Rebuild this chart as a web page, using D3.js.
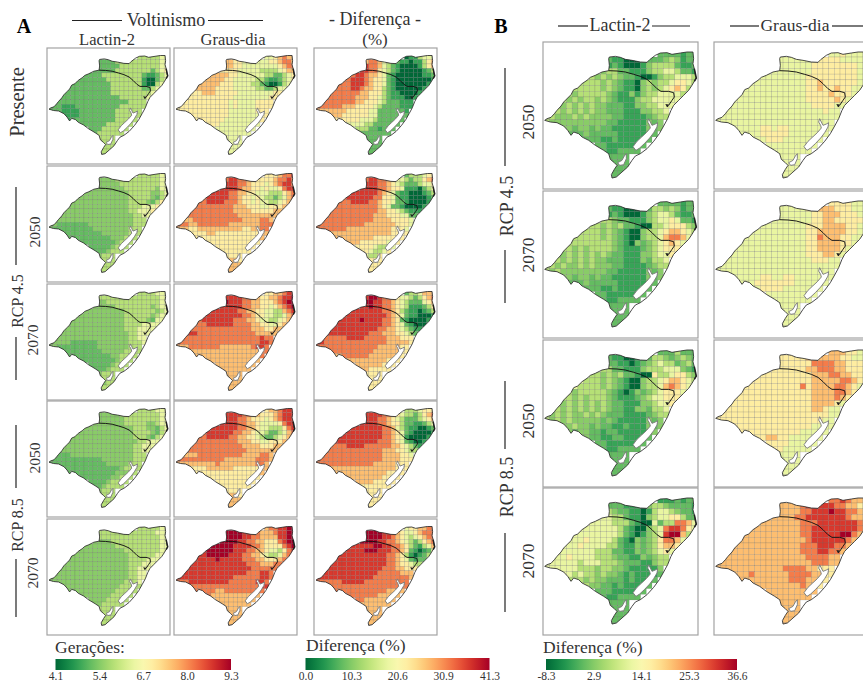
<!DOCTYPE html>
<html>
<head>
<meta charset="utf-8">
<script src="https://cdn.jsdelivr.net/npm/d3@7"></script>
<style>
body { margin: 0; background: #fff; }
svg { display: block; }
text { font-family: "Liberation Serif", serif; fill: #333; }
</style>
</head>
<body>
<svg width="863" height="683"></svg>
<script>
const svg = d3.select('svg');

// map units, 17.1 units = one grid cell (0.3 deg)
const OUTLINE = [[13,245],[20,240],[32,236],[42,225],[50,215],[62,202],[70,190],[82,178],[92,168],[100,153],[112,148],[125,135],[140,125],[150,116],[165,110],[185,100],[205,96],[207,80],[205,60],[207,55],[225,53],[240,56],[255,62],[275,65],[300,70],[320,71],[328,63],[345,50],[360,43],[380,42],[395,47],[420,43],[440,40],[458,40],[460,60],[458,75],[462,90],[465,110],[468,118],[462,128],[455,140],[445,155],[430,170],[415,185],[400,200],[392,215],[382,240],[370,262],[357,285],[340,308],[320,330],[300,345],[285,352],[275,365],[262,385],[245,400],[228,415],[215,418],[213,408],[222,392],[230,380],[222,372],[210,362],[205,345],[190,335],[165,320],[145,305],[125,295],[115,285],[100,280],[92,290],[82,275],[70,262],[50,252],[30,250]];
const DIVIDE = [[205,96],[230,97],[255,100],[280,107],[300,113],[320,122],[335,135],[350,150],[362,158],[385,158],[400,162],[402,175],[395,185],[385,200]];
const PATOS = [[325,240],[330,250],[335,260],[345,256],[352,252],[350,265],[340,282],[328,298],[313,314],[298,328],[287,335],[278,324],[290,308],[303,296],[318,282],[330,268],[328,260],[322,250]];
const MIRIM = [[258,345],[258,360],[250,378],[238,380],[232,372],[245,365],[252,352]];
const SHORE = [[462,90],[466,108],[468,118],[462,128]];
const DELTA = [[385,200],[379,199],[382,205]];

// first column of each grid row
const ROW_START = [20,11,11,10,8,6,5,4,3,2,1,0,0,3,4,7,9,10,11,11,12,12,12];

// cell values as levels of the colour bar, one string per grid row
const A_PRES_LACTIN = "3333344 2222333333333344 2222233333333344 22222333333332345 2222333333333211234 222222233333333100234 222222222333333310034 222222222233333332234 222222222223333333334 222222222222223333334 222222222222222223333 2221112222222222333333 222111122222222333333 111122222222333333 1222222222233333 222222333333 222333333 2333333 3333 3333 333 33 3".split(" ");
const A_PRES_GRAUS = "4456766 6655444444556776 6655444444445677 55554444433334566 6666554444443322345 666665544444332112345 666665554444332100134 666665555444443322344 555666555554444444455 555555555554444444455 555555555554544445555 5555555555554544445555 555555555555444444555 555555555444444455 5555555444444445 555444444444 444444444 4444444 4444 4444 444 44 4".split(" ");
const A_PRES_DIF = "0113444 6776433211011356 8776432100001356 88775432100000123 7887665421000000112 778887655421000000001 777888765542100000001 777788766553210000001 777777766555321100001 777777766655432111001 777777776655543222111 7777776665555432222111 666666655555442222221 666555555442222222 5555554443222222 444433222222 333221222 2222222 2222 2222 222 22 2".split(" ");

const A_4550_LACTIN = "3333344 aaaa333333333344 aaaaa33333333344 aaaaaaa3333333a44 aaaaaaaaaa33333aa34 aaaaaaaaaaaa33333a234 aaaaaaaaaaaaa3333a235 aaaaaaaaaaaaaa3334445 aaaaaaaaaaaaaaa334445 aaaaaaaaaaaaaaaaa3344 aaaaaaaaaaaaaaaaaa333 aa2222222aaaaaaaaaa333 a222222222aaaaaaaa333 222222222aaaaaa333 2222222222aaa333 22222222a333 22222a333 222a333 a333 3333 333 33 3".split(" ");
const A_4550_GRAUS = "5556778 7887766555567787 8887765554567887 88887665545445788 8888776655444333567 788888776554543323467 778888777655454433456 777777777666555445556 777777777766665555566 777777777777666666666 666777777777776666776 7776677777776666666777 666556666666666556677 555566555555555566 5555555555555566 555555555555 555555555 5555555 5555 5665 666 66 6".split(" ");
const A_4550_DIF = "2333455 7887765443233567 8887765432223445 88887765541110234 8888887654211000123 788888877554211000012 777888877655422100001 777777777765422100001 777777777776655432111 777777777776665554422 777777777777666655554 7777777777766666665554 777777766666666665554 666666666666665555 6666666665555555 666555555445 555543344 5543345 4335 5555 555 55 5".split(" ");

const A_4570_LACTIN = "3333444 3333333333333344 aa33333333333344 aaaaa33333333a344 aaaaaaaaa3333333a34 aaaaaaaaaaa333333a344 aaaaaaaaaaaa33333a244 aaaaaaaaaaaaa33334444 aaaaaaaaaaaaaa3334444 aaaaaaaaaaaaaaaa33444 aaaaaaaaaaaaaaaaa3344 aaaaa222222aaaaaaa3334 aa222222222aaaaaaa333 222222222aaaaa3333 2222222222aa3333 22222222a333 22222a333 222a333 a333 a333 a33 33 3".split(" ");
const A_4570_GRAUS = "5566788 8888776655667889 9888776655567899 88888776655456789 8888887766554433678 888888888776554433467 788888887776654433456 777888888777766554456 777777777777776665566 888777777777777766666 777777777777777777877 7777777777777777777887 666777777766666667887 666666666666666677 6666666666666667 666666666666 666666666 6666666 6666 6666 666 66 6".split(" ");
const A_4570_DIF = "2334666 8998776544323567 9988776543222456 88988776543111235 8888888776532110123 888888888876542110001 888889888877652100001 888888888887765421000 888888888887766543211 888888888877766655432 877777888877777666555 8877777777777777666665 777777777777776666655 777777777766666655 6677777766666655 666666666555 666666555 6655555 5555 5555 555 55 5".split(" ");

const A_8550_LACTIN = "3333444 aaaaa33333333344 aaaaaa3333333344 aaaaaaa33333aa344 aaaaaaaaaaa333aa234 aaaaaaaaaaaaa3333a234 aaaaaaaaaaaaaa333a234 aaaaaaaaaaaaaaaa33444 aaaaaaaaaaaaaaaa33444 aaaaaaaaaaaaaaaaa3344 2222aaaaaaaaaaaaaa333 a22222222222aaaaaaa333 2222222222222aaaaa333 2222222222222a3333 22222222222aaa33 2222222aa333 2222a3333 22a3333 a333 3333 333 33 3".split(" ");
const A_8550_GRAUS = "5667888 8888776655567888 8887765554567888 88887766544445788 8888887766544333578 788888877665443223467 778888877665543223456 777777777766655445556 777777777777666655566 777777777777776666666 666677777777776666776 7777777777766666667776 666666666766666666776 555566666655555566 5555555555555566 555555555555 555555555 5555555 5555 5665 666 66 6".split(" ");
const A_8550_DIF = "3334555 8888776543323567 8887765432223456 88887765532211234 8888888776432110012 888888888776542100001 888888888877654100001 888888888877765421001 777788887777776654321 777777777777766655433 777777777777776666554 7777777777777776666555 777777777777766666555 666666666666666555 6666666666665555 666666665555 666655555 5555555 5555 5555 555 55 5".split(" ");

const A_8570_LACTIN = "3333344 3333333333333444 3333333333333344 aaaa3333333333344 aaaaaaa333333333344 aaaaaaaaaaa3333333344 aaaaaaaaaaaaa33333344 aaaaaaaaaaaaaa3333444 aaaaaaaaaaaaaaa333444 aaaaaaaaaaaaaaaa33444 aaaaaaaaaaaaaaaaa3344 aaaaaaaaaaaaaaaaaa3344 aaaaaaaaaaaaaaaaa3334 aaaaaaaaaaaaa33333 aaaaaaaaaaa33333 aaaaaaa33333 aaaa33333 aa33333 3333 3333 333 33 3".split(" ");
const A_8570_GRAUS = "6778899 9999887766678899 9999887766668899 99998877665557899 9999988887765555789 899999988877665443578 889999988877665433467 888889888887776655567 888888888888877766677 888888888888888777777 888888888888888777887 8888888888888777777887 777888888888777777887 777777777777777788 7777766777777777 766666666666 666666666 6666666 6666 6666 666 66 6".split(" ");
const A_8570_DIF = "4556677 9999887654456777 9999887654345677 99998877654323567 8888899887765321346 888889998887765210124 888888888887765310123 888888888888776542122 888888888888877655433 888888888888877766555 888888888888877777666 8888888888888777777776 777777888887777777777 777777777777777777 7777777777776666 777777766666 776666666 6666666 6666 6666 666 66 6".split(" ");

const B_4550_LACTIN = "2222122 2110001222a3a122 1210001a33332112 a3322111a33443221 3a3a3a221001a334443 3333a3a2110a3a3345543 33333a3a2110a3a345653 3a33333a211a1a3344443 3a3a33a3a2111a3344444 aa3a3a3aa22211aa33444 a3a3a3a3aa222111aa334 33aaa3a3aaaa2211112a33 3aaaaaaaaaa2211111a2a aa2aa2a22111111a2a 222a2222211111a2 222112111122 221111112 2112222 2222 2222 222 22 2".split(" ");
const B_4550_GRAUS = "4454444 4444445555544444 4444445555555544 44444445555555544 4444444455555555544 444444444455655555544 444444444445565565544 444444444444555565554 444444444444455555654 444444444444444555544 444444444444444444544 4444444444444444444444 444444444444444444444 444445545544444444 4444555554444444 445554444444 444444444 4444444 4444 4444 444 44 4".split(" ");
const B_4570_LACTIN = "2222122 2110001233a3a122 1210001a34432112 33a22111a34454221 33a3a3221003345553a 3333a3a2100a334566543 33333a3a2100a33467764 33333333a210a2a345654 33a3a3333a21112a34555 aa3a3a3a3a22111aa3445 33a3a3a3aa222111a2334 33a3aa3a3aaa2211112a33 3a3aaaaaaaa2211111a2a aa2aa2a22111111a2a 222a2222211111a2 222112111122 221111112 2112222 2222 2222 222 22 2".split(" ");
const B_4570_GRAUS = "5555444 4444455666555444 4444445566655544 44444445566555554 4444444455566665544 444444444455666665544 444444444445576665544 444444444444556666554 444444444444455666654 444444444444445556654 444444444444444455544 4444444444444444444444 444444444444444444444 444445544554444444 4445555555444444 455554444444 444444444 4444444 4444 4444 444 44 4".split(" ");
const B_8550_LACTIN = "2223222 2110011233a2a3a2 2211012a34332a32 3322111a333444a21 33a3a3221005334553a 4333a3a2100a334566543 43333a3a2100a33467654 3a33333a2101a2a345554 33a3a333a21112a344555 3a3a3a3a3a22111aa3445 33a3a3a3a3a2211aa2334 3a3a3aa3a3a22211112a33 3a3a3aaaaa2a211111a2a aa3aa2a22112111a2a a2aa22122111112a a22112211122 221111122 2112222 2222 2222 222 22 2".split(" ");
const B_8550_GRAUS = "6665545 5555566666655445 5555557777665555 55555566777665554 5555555556667766554 555555555556666677654 555555555575666677654 555555555555566667765 555555555555556666765 555555555555555666654 555555555555555566544 5555555555555555555544 555555555555555555544 555555555555554444 5555555555544444 556655444444 555544444 5544444 4444 4444 444 44 4".split(" ");
const B_8570_LACTIN = "1112122 2221110a33a22221 3a2211013443a221 44332110a34455322 4444333210042337764 444444432100a34788754 4444444432101a3489963 444544443210a2a357764 4445444433211a2a35665 44444443332211a2a3454 44454444333a2211a2a33 4444443444333a22211a33 444444333a33aa211111a 443433a3aa21211112 333a3aa222121122 3aa221211112 222111112 2112222 2222 2222 222 22 2".split(" ");
const B_8570_GRAUS = "7787665 6666788888776655 6666778889887765 66667788888887665 6666666777888888876 666666666778888888876 666666666677888889976 666666666666788888876 666666666666777888776 666666666666677788776 666666666666666777766 6666666666666666677766 666666666666777766555 666766666677776655 6666666667776655 666666667665 666666666 6666666 6666 6666 666 66 6".split(" ");

// colour bars
const GERACOES_TICKS = [4.1, 5.4, 6.7, 8.0, 9.3];
const DIF_A_TICKS = [0.0, 10.3, 20.6, 30.9, 41.3];
const DIF_B_TICKS = [-8.3, 2.9, 14.1, 25.3, 36.6];

const DIMS = {
    A: { COLS: [47, 174, 314], ROWS: [48, 166, 284, 401, 519], W: 123, H: 116, MAP: [2, 120.7, 7.5, 107] },
    B: { COLS: [543, 714], ROWS: [42, 191, 340, 488], W: 155, H: 147, MAP: [1.7, 153.3, 10, 136.7] }
};
const GRID = { X0: 10, Y0: 38, CELL: 17.1 };

// position of each code on the bar, out of 9
const LEVEL_OF = { 0: 0, 1: 1.2, 2: 1.8, a: 2.3, 3: 3, 4: 4, 5: 5, 6: 6, 7: 7, 8: 8, 9: 9 };
const LEVELS = 9;

const ramp = t => d3.interpolateRdYlGn(1 - t);
const scaleFrom = ticks => d3.scaleSequential([ticks[0], ticks[ticks.length - 1]], ramp);

const colorGer = scaleFrom(GERACOES_TICKS);
const colorDifA = scaleFrom(DIF_A_TICKS);
const colorDifB = scaleFrom(DIF_B_TICKS);

const PANELS = [
    ['A', 0, 0, A_PRES_LACTIN, colorGer], ['A', 1, 0, A_PRES_GRAUS, colorGer], ['A', 2, 0, A_PRES_DIF, colorDifA],
    ['A', 0, 1, A_4550_LACTIN, colorGer], ['A', 1, 1, A_4550_GRAUS, colorGer], ['A', 2, 1, A_4550_DIF, colorDifA],
    ['A', 0, 2, A_4570_LACTIN, colorGer], ['A', 1, 2, A_4570_GRAUS, colorGer], ['A', 2, 2, A_4570_DIF, colorDifA],
    ['A', 0, 3, A_8550_LACTIN, colorGer], ['A', 1, 3, A_8550_GRAUS, colorGer], ['A', 2, 3, A_8550_DIF, colorDifA],
    ['A', 0, 4, A_8570_LACTIN, colorGer], ['A', 1, 4, A_8570_GRAUS, colorGer], ['A', 2, 4, A_8570_DIF, colorDifA],
    ['B', 0, 0, B_4550_LACTIN, colorDifB], ['B', 1, 0, B_4550_GRAUS, colorDifB],
    ['B', 0, 1, B_4570_LACTIN, colorDifB], ['B', 1, 1, B_4570_GRAUS, colorDifB],
    ['B', 0, 2, B_8550_LACTIN, colorDifB], ['B', 1, 2, B_8550_GRAUS, colorDifB],
    ['B', 0, 3, B_8570_LACTIN, colorDifB], ['B', 1, 3, B_8570_GRAUS, colorDifB]
];

function cellsOf(rows, color) {
    const [lo, hi] = color.domain();
    const cells = [];
    rows.forEach((row, j) => {
        [...row].forEach((c, k) => {
            cells.push({ col: ROW_START[j] + k, row: j, value: lo + LEVEL_OF[c] / LEVELS * (hi - lo) });
        });
    });
    return cells;
}

function drawPanel([block, c, r, rows, color], idx) {
    const d = DIMS[block];
    const px = d.COLS[c], py = d.ROWS[r];

    const x = d3.scaleLinear([13, 468], [px + d.MAP[0], px + d.MAP[1]]);
    const y = d3.scaleLinear([40, 420], [py + d.MAP[2], py + d.MAP[3]]);
    const line = d3.line().x(p => x(p[0])).y(p => y(p[1]));
    const ring = pts => line(pts) + 'Z';

    const g = svg.append('g');

    g.append('clipPath').attr('id', 'clip' + idx)
        .append('path').attr('d', ring(OUTLINE));

    g.append('g').attr('clip-path', `url(#clip${idx})`)
        .selectAll('rect')
        .data(cellsOf(rows, color))
        .join('rect')
        .attr('x', p => x(GRID.X0 + p.col * GRID.CELL))
        .attr('y', p => y(GRID.Y0 + p.row * GRID.CELL))
        .attr('width', x(GRID.CELL) - x(0))
        .attr('height', y(GRID.CELL) - y(0))
        .attr('fill', p => color(p.value))
        .attr('stroke', '#555')
        .attr('stroke-opacity', 0.35)
        .attr('stroke-width', 0.45);

    g.selectAll('path.lagoa')
        .data([PATOS, MIRIM])
        .join('path')
        .classed('lagoa', true)
        .attr('d', ring)
        .attr('fill', '#fff')
        .attr('stroke', '#777')
        .attr('stroke-width', 0.9);

    g.append('path').attr('d', ring(OUTLINE))
        .attr('fill', 'none').attr('stroke', '#2a2a2a').attr('stroke-width', 0.85);
    g.append('path').attr('d', line(DIVIDE))
        .attr('fill', 'none').attr('stroke', '#111').attr('stroke-width', 0.95);
    g.selectAll('path.shore')
        .data([SHORE, DELTA])
        .join('path')
        .classed('shore', true)
        .attr('d', line)
        .attr('fill', 'none').attr('stroke', '#222').attr('stroke-width', 1.5);

    g.append('rect')
        .attr('x', px).attr('y', py).attr('width', d.W).attr('height', d.H)
        .attr('fill', 'none').attr('stroke', '#a3a3a3').attr('stroke-width', 1.2);
}

PANELS.forEach(drawPanel);

function label(txt, x, y, size, rotate) {
    const t = svg.append('text').text(txt)
        .attr('text-anchor', 'middle')
        .attr('font-size', size);
    if (rotate) t.attr('transform', `translate(${x},${y}) rotate(-90)`).attr('dy', '0.35em');
    else t.attr('x', x).attr('y', y);
    return t;
}

function rule(x1, y1, x2, y2) {
    svg.append('line').attr('x1', x1).attr('y1', y1).attr('x2', x2).attr('y2', y2)
        .attr('stroke', '#222').attr('stroke-width', 1.2);
}

// block A headers
label('A', 24, 33, 20).attr('font-weight', 'bold').style('fill', '#000');
label('Voltinismo', 166, 26, 18);
rule(72, 20.5, 122, 20.5);
rule(208, 20.5, 263, 20.5);
label('Lactin-2', 107, 45, 16.5);
label('Graus-dia', 233, 45, 16.5);
label('- Diferença -', 375, 25, 18);
label('(%)', 375, 45, 17);
label('Presente', 17, 102, 20.5, true);

label('2050', 35, 232, 15.5, true);
label('2070', 33, 340, 15.5, true);
label('RCP 4.5', 17, 301, 16, true);
rule(16, 187, 16, 265);
rule(16, 337, 16, 380);
label('2050', 35, 458, 15.5, true);
label('2070', 33, 573, 15.5, true);
label('RCP 8.5', 17, 525, 16, true);
rule(16, 425, 16, 488);
rule(16, 559, 16, 617);

// block B headers
label('B', 501, 33, 20).attr('font-weight', 'bold').style('fill', '#000');
label('Lactin-2', 620, 31, 18);
rule(558, 26, 588, 26);
rule(652, 26, 690, 26);
label('Graus-dia', 795, 31, 17.5);
rule(730, 26, 759, 26);
rule(832, 26, 863, 26);

label('2050', 528, 122, 17.5, true);
label('2070', 528, 255, 17.5, true);
label('RCP 4.5', 507, 206, 18, true);
rule(505, 68, 505, 166);
rule(505, 250, 505, 303);
label('2050', 528, 421, 17.5, true);
label('2070', 528, 561, 17.5, true);
label('RCP 8.5', 507, 487, 18, true);
rule(505, 381, 505, 449);
rule(505, 533, 505, 612);

// colour bars
function colorBar(id, color, ticks, title, x0, x1, y0, y1, titleX, titleY) {
    const grad = svg.append('linearGradient').attr('id', id);
    d3.range(0, 1.01, 0.05).forEach(t => {
        grad.append('stop').attr('offset', t)
            .attr('stop-color', color(color.domain()[0] + t * (color.domain()[1] - color.domain()[0])));
    });
    svg.append('rect').attr('x', x0).attr('y', y0)
        .attr('width', x1 - x0).attr('height', y1 - y0)
        .attr('fill', `url(#${id})`);

    const pos = d3.scaleLinear(color.domain(), [x0, x1]);
    const axis = svg.append('g').attr('transform', `translate(0,${y1})`)
        .call(d3.axisBottom(pos).tickValues(ticks).tickSize(0).tickPadding(1.5).tickFormat(v => v.toFixed(1)));
    axis.select('.domain').remove();
    axis.selectAll('text').attr('font-size', 11.5).style('font-family', '"Liberation Serif", serif').style('fill', '#333');

    svg.append('text').text(title).attr('x', titleX).attr('y', titleY).attr('font-size', 17.5);
}

colorBar('barGer', colorGer, GERACOES_TICKS, 'Gerações:', 55.5, 231, 659, 670, 55, 653);
colorBar('barDifA', colorDifA, DIF_A_TICKS, 'Diferença (%)', 305.5, 489.5, 658, 670, 306, 651);
colorBar('barDifB', colorDifB, DIF_B_TICKS, 'Diferença (%)', 546, 737, 659, 670, 543, 653);
</script>
</body>
</html>
